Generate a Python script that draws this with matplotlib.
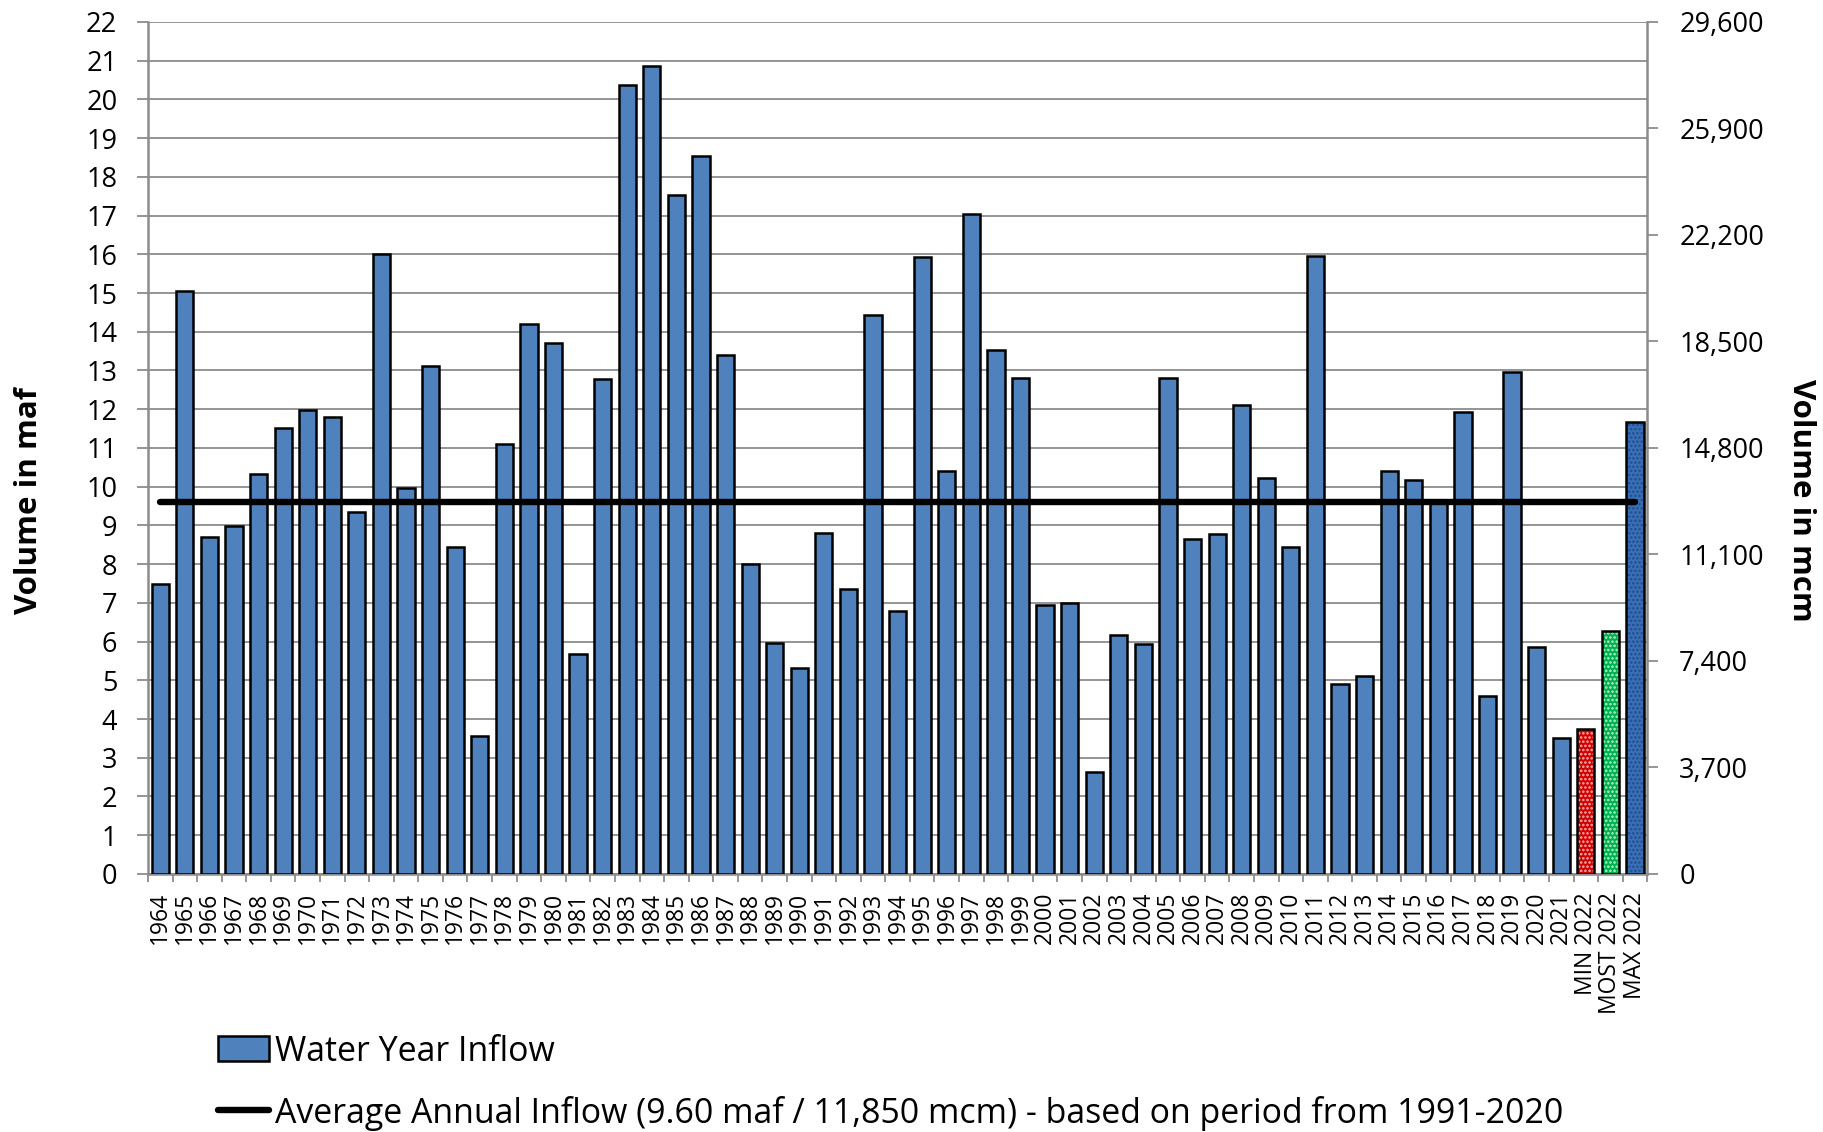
import numpy as np
import matplotlib.pyplot as plt
from matplotlib.ticker import FuncFormatter, MultipleLocator, FixedLocator
from matplotlib.lines import Line2D
from matplotlib.patches import Patch

plt.rcParams['font.family'] = ['Open Sans', 'DejaVu Sans']
plt.rcParams['hatch.linewidth'] = 1.2

# water year inflow, million acre-feet
years = [str(y) for y in range(1964, 2022)]
inflow_maf = [7.48, 15.04, 8.71, 8.99, 10.33, 11.52, 11.99, 11.80, 9.35, 16.00,
              9.96, 13.12, 8.43, 3.55, 11.09, 14.20, 13.71, 5.67, 12.77, 20.38,
              20.86, 17.52, 18.55, 13.39, 7.99, 5.96, 5.32, 8.81, 7.35, 14.43,
              6.80, 15.93, 10.41, 17.04, 13.52, 12.81, 6.94, 7.00, 2.62, 6.16,
              5.93, 12.80, 8.64, 8.77, 12.10, 10.23, 8.43, 15.96, 4.90, 5.10,
              10.41, 10.17, 9.57, 11.94, 4.59, 12.96, 5.86, 3.52]

# 2022 forecast scenarios
fc_labels = ['MIN 2022', 'MOST 2022', 'MAX 2022']
fc_maf = [3.75, 6.26, 11.67]
fc_colors = ['#D40000', '#00B050', '#3A6EB5']
fc_dots = ['#F2B8B8', '#B8F0C8', '#1F4E8C']

avg_maf = 9.60
mcm_ticks = [0, 3700, 7400, 11100, 14800, 18500, 22200, 25900, 29600]

labels = years + fc_labels
x = np.arange(len(labels))
n_hist = len(years)

fig = plt.figure(figsize=(18.24, 11.32), dpi=100)
ax = fig.add_axes([0.0811, 0.228, 0.822, 0.7526])

grid_c = '#8C8C8C'
blue = '#4F81BD'
w = 0.7

bars = ax.bar(x[:n_hist], inflow_maf, width=w, color=blue,
              edgecolor='black', linewidth=1.8, zorder=3)
# forecast bars: dotted fill, then black outline on top
ax.bar(x[n_hist:], fc_maf, width=w, color=fc_colors, edgecolor=fc_dots,
       hatch='....', linewidth=0, zorder=3)
ax.bar(x[n_hist:], fc_maf, width=w, fill=False, edgecolor='black',
       linewidth=1.8, zorder=4)

ax.plot([x[0], x[-1]], [avg_maf, avg_maf], color='black', lw=4.6,
        solid_capstyle='round', zorder=5)

ax.set_xlim(-0.5, len(labels) - 0.5)
ax.set_ylim(0, 22)
ax.yaxis.set_major_locator(MultipleLocator(1))
ax.grid(axis='y', color=grid_c, lw=1.3, zorder=0)
ax.set_axisbelow(True)

ax.set_xticks(x)
ax.set_xticklabels(labels, rotation=90, fontsize=16.5, linespacing=0.9)
ax.xaxis.set_minor_locator(FixedLocator(np.arange(-0.5, len(labels), 1)))
ax.tick_params(axis='x', which='major', length=0, pad=13)
ax.tick_params(axis='x', which='minor', length=6, width=1.3, color=grid_c)
ax.tick_params(axis='y', length=8, width=1.3, color=grid_c, labelsize=19.5,
               pad=14)

for side in ['left', 'right', 'bottom']:
    ax.spines[side].set_color(grid_c)
    ax.spines[side].set_linewidth(1.8)
ax.spines['top'].set_visible(False)

ax.set_ylabel('Volume in maf', fontsize=22.5, fontweight='bold', va='center')
ax.yaxis.set_label_coords(-0.0794, 0.438)

ax2 = ax.twinx()
ax2.set_ylim(0, 29600)
ax2.set_yticks(mcm_ticks)
ax2.yaxis.set_major_formatter(FuncFormatter(lambda v, p: f'{int(v):,}'))
ax2.tick_params(axis='y', length=8, width=1.3, color=grid_c, labelsize=19.5,
                pad=15)
for side in ['left', 'right', 'bottom', 'top']:
    ax2.spines[side].set_visible(False)
ax2.set_ylabel('Volume in mcm', fontsize=22.5, fontweight='bold',
               rotation=270, va='center')
ax2.yaxis.set_label_coords(1.1027, 0.438)

handles = [Patch(facecolor=blue, edgecolor='black', linewidth=1.8),
           Line2D([0], [0], color='black', lw=4.6, solid_capstyle='round')]
names = ['Water Year Inflow',
         'Average Annual Inflow (9.60 maf / 11,850 mcm) - based on period from 1991-2020']
fig.legend(handles, names, loc='upper left', bbox_to_anchor=(0.1193, 0.0861),
           frameon=False, fontsize=24.4, handlelength=1.53, handleheight=0.77,
           handletextpad=0.17, labelspacing=0.8, borderpad=0, borderaxespad=0)

fig.savefig('out.png', dpi=100)
